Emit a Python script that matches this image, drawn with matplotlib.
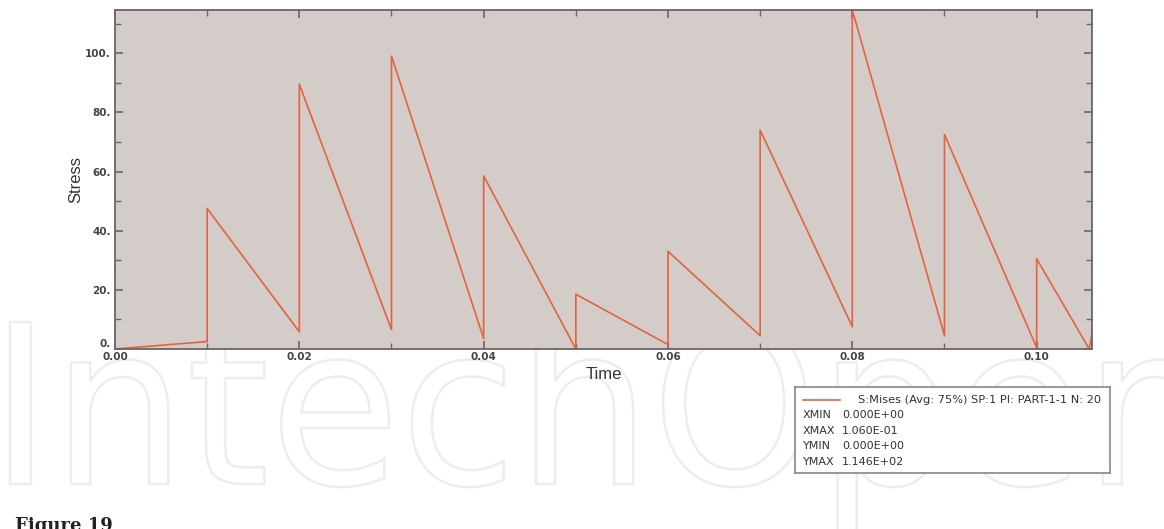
import matplotlib
matplotlib.use("Agg")
import matplotlib.pyplot as plt
from matplotlib.textpath import TextPath
from matplotlib.patches import PathPatch
from matplotlib.font_manager import FontProperties
from matplotlib.transforms import Affine2D, IdentityTransform
from matplotlib.ticker import MultipleLocator, FuncFormatter

# Stress history (time, stress)
time = [0.0, 0.01, 0.01, 0.02, 0.02, 0.03, 0.03, 0.04, 0.04, 0.05, 0.05,
        0.06, 0.06, 0.07, 0.07, 0.08, 0.08, 0.09, 0.09, 0.10, 0.10, 0.1057, 0.106]
stress = [0.0, 2.5, 47.5, 5.8, 89.5, 6.5, 99.0, 3.5, 58.5, 0.0, 18.5,
          1.5, 33.0, 4.5, 74.0, 7.5, 114.6, 4.5, 72.5, 0.5, 30.5, 0.0, 5.0]

legend_title = "S:Mises (Avg: 75%) SP:1 PI: PART-1-1 N: 20"
legend_keys = ["XMIN", "XMAX", "YMIN", "YMAX"]
legend_vals = ["0.000E+00", "1.060E-01", "0.000E+00", "1.146E+02"]

line_color = "#e2643f"
frame_color = "#6b6663"

fig = plt.figure(figsize=(11.64, 5.29), dpi=100)

# faint outlined watermark behind everything, stretched to the figure width
tp = TextPath((0, 0), "IntechOpen", size=1, prop=FontProperties(family="DejaVu Sans"))
ext = tp.get_extents()
sx = 1190 / ext.width
sy = 162 / 0.729
wm_tr = Affine2D().translate(-ext.x0, 0).scale(sx, sy).translate(10, 529 - 484)
wm = PathPatch(wm_tr.transform_path(tp), facecolor="white", edgecolor="#eceeee",
               linewidth=1.8, zorder=-5)
fig.add_artist(wm)
wm.set_transform(IdentityTransform())

ax = fig.add_axes([0.0988, 0.3403, 0.8393, 0.6408])
ax.set_facecolor("#d3ccc9")
ax.plot(time, stress, color=line_color, linewidth=1.2)

ax.set_xlim(0, 0.106)
ax.set_ylim(0, 114.6)

ax.xaxis.set_major_locator(MultipleLocator(0.02))
ax.xaxis.set_minor_locator(MultipleLocator(0.01))
ax.yaxis.set_major_locator(MultipleLocator(20))
ax.yaxis.set_minor_locator(MultipleLocator(10))
ax.xaxis.set_major_formatter(FuncFormatter(lambda v, p: f"{v:.2f}"))
ax.yaxis.set_major_formatter(FuncFormatter(lambda v, p: f"{int(round(v))}."))

ax.tick_params(which="both", direction="in", top=True, right=True,
               color=frame_color, labelcolor="#444444", labelsize=7.5)
ax.tick_params(which="major", length=6, width=1.2)
ax.tick_params(which="minor", length=4, width=1.0)
ax.tick_params(axis="x", pad=2)
ax.tick_params(axis="y", pad=3)

for s in ax.spines.values():
    s.set_color(frame_color)
    s.set_linewidth(1.3)

ax.set_xlabel("Time", fontsize=12, color="#333333", labelpad=4,
              family="Liberation Sans")
ax.set_ylabel("Stress", fontsize=12, color="#333333", labelpad=1,
              family="Liberation Sans")

# legend box in the style of the FE post-processor
lax = fig.add_axes([795 / 1164, 1 - 473 / 529, 315 / 1164, 86 / 529])
lax.set_xlim(0, 315)
lax.set_ylim(86, 0)
lax.set_xticks([])
lax.set_yticks([])
for s in lax.spines.values():
    s.set_color("#8a8584")
    s.set_linewidth(1.2)
lax.plot([8, 45], [13, 13], color=line_color, linewidth=1.2)
lax.text(306, 13, legend_title, fontsize=8.2, ha="right", va="center",
         color="#333333")
for i, (k, v) in enumerate(zip(legend_keys, legend_vals)):
    y = 28 + i * 15.7
    lax.text(8, y, k, fontsize=8, va="center", color="#333333")
    lax.text(47, y, v, fontsize=8, va="center", color="#333333")

fig.text(0.013, -0.012, "Figure 19", fontsize=13, fontweight="bold",
         family="DejaVu Serif", color="#222222", va="bottom")

# bold tick labels; the "0." label sits just above the axis line
fig.canvas.draw()
for lab in ax.get_xticklabels() + ax.get_yticklabels():
    lab.set_fontweight("bold")
for t in ax.yaxis.get_major_ticks():
    if t.label1.get_text() == "0.":
        t.label1.set_verticalalignment("bottom")

fig.savefig("out.png", dpi=100)
